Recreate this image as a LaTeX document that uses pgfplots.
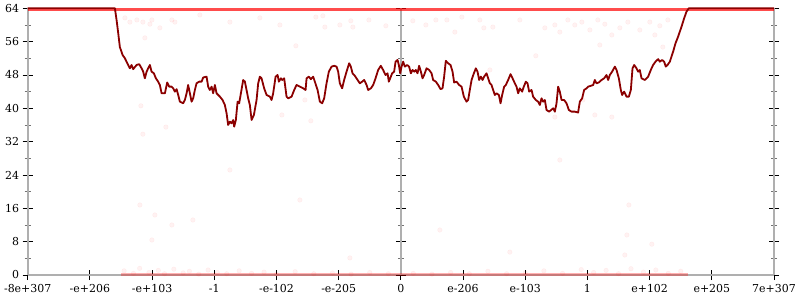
\documentclass[border=0pt]{standalone}
\usepackage{pgfplots}
\pgfplotsset{compat=1.18}
\usepackage{fontspec}
\setmainfont{DejaVu Serif}
\definecolor{lineRed}{RGB}{139,0,0}
\definecolor{axGray}{RGB}{175,175,175}
\begin{document}
\begin{tikzpicture}
\pgfplotsset{
  base/.style={
    width=746.3bp, height=266.7bp, scale only axis,
    xmin=-6, xmax=6, ymin=0, ymax=64, clip=false,
    tick align=center,
    major tick length=10bp, minor tick length=6bp,
    every major tick/.style={black, line width=0.8bp},
    every minor tick/.style={black!55, line width=0.8bp},
    xtick={-6,...,6}, ytick={0,8,...,64}, minor ytick={4,12,...,60},
    tick label style={font=\fontsize{11}{13}\selectfont},
  },
  nolinearrows/.style={
    axis line style={axGray, line width=2bp, -},
    x axis line style={-}, y axis line style={-},
  }
}
\begin{axis}[base, axis x line=bottom, axis y line=box, yticklabel pos=left, nolinearrows,
  xticklabels={-8e+307,-e+206,-e+103,-1,-e-102,-e-205,0,e-206,e-103,1,e+102,e+205,7e+307},
  yticklabels={0,8,16,24,32,40,48,56,64},
  xticklabel style={yshift=-1bp}]
  \path (axis cs:-6,0) coordinate (sw);
  \path (axis cs:6,64) coordinate (ne);
\end{axis}
\begin{axis}[base, axis x line=none, axis y line=middle, nolinearrows, yticklabels={}, xtick=\empty]
\end{axis}
\begin{axis}[base, axis lines=none, ticks=none]
  % top band of points
  \addplot[red, opacity=0.7, line width=2.2bp] coordinates {(-6,63.7) (6,63.7)};
  % bottom band of points
  \addplot[red, opacity=0.3, line width=3bp] coordinates {(-4.5,0.2) (4.62,0.2)};
  % scattered points
  \addplot[only marks, mark=*, mark size=2.3bp, mark options={draw=red, fill=red, draw opacity=0.05, fill opacity=0.05}] coordinates {
    (-4.437,61.7) (-4.357,60.7) (-4.244,61.2) (-4.148,60.7) (-4.035,60.2) (-4.003,61.2)
    (-3.875,59.3) (-3.682,61.2) (-3.633,60.7) (-4.116,56.9) (-3.232,62.4) (-2.749,60.7)
    (-2.267,61.7) (-1.945,60.0) (-1.367,61.9) (-1.254,62.2) (-1.222,59.5) (-0.981,60.0)
    (-0.804,61.0) (-0.772,59.5) (-0.514,61.2) (-0.241,59.8) (0.193,61.0) (0.402,60.0)
    (0.563,61.2) (0.740,61.2) (0.868,58.3) (0.981,61.9) (1.270,61.2) (1.334,59.3)
    (1.479,59.5) (1.913,61.2) (2.315,59.3) (2.476,60.0) (2.556,58.3) (2.685,61.2)
    (2.797,60.0) (2.910,60.7) (3.039,58.8) (3.167,61.2) (3.280,60.2) (3.392,57.6)
    (3.521,59.3) (3.650,60.7) (3.842,58.8) (4.003,60.7) (4.084,57.6) (4.164,59.8)
    (4.293,61.2) (4.212,54.7) (3.199,55.2)
    (-4.180,40.6) (-3.778,35.5) (-4.148,33.8) (-1.913,38.4) (-1.688,55.0) (-1.543,42.0)
    (-1.447,37.0) (1.431,49.2) (2.170,52.6) (2.926,42.0) (3.119,38.4) (3.392,37.9)
    (2.476,37.9) (0.627,10.8) (-1.624,18.0) (-4.196,16.8) (-3.955,14.4) (-3.682,12.0)
    (-3.344,13.2) (-4.003,8.4) (3.666,16.8) (3.634,9.6) (4.035,7.4) (3.601,4.8)
    (-0.820,4.1) (1.752,5.5) (-2.749,25.2) (2.556,27.6)
    (-4.45,1.0) (-4.3,0.4) (-4.2,1.6) (-4.05,0.6) (-3.9,1.1) (-3.8,0.3) (-3.65,1.4)
    (-3.5,0.5) (-3.4,0.9) (-3.25,0.2) (-3.1,1.2) (-2.95,0.6) (-2.8,0.3) (-2.6,1.0)
    (-2.4,0.4) (-2.2,0.7) (-2.0,0.2) (-1.7,0.8) (-1.4,0.3) (-1.1,0.5) (-0.8,0.2)
    (-0.5,0.6) (-0.2,0.3) (0.2,0.4) (0.5,0.2) (0.8,0.6) (1.1,0.3) (1.4,0.9) (1.7,0.3)
    (2.0,0.5) (2.3,1.0) (2.6,0.4) (2.9,1.3) (3.1,0.6) (3.3,1.1) (3.5,0.3) (3.7,1.5)
    (3.9,0.7) (4.1,1.2) (4.3,0.4) (4.5,0.9)
  };
  % main line
  \addplot[lineRed, line width=1.8bp, line join=round] coordinates {
    (-6,64) (-4.598,64) (-4.571,61.2) (-4.545,58.1) (-4.518,54.7) (-4.474,52.8) (-4.437,52.0)
    (-4.384,50.4) (-4.357,49.6) (-4.330,50.4) (-4.304,49.4) (-4.249,50.4) (-4.207,50.6)
    (-4.169,49.6) (-4.143,48.8) (-4.116,47.2) (-4.088,48.8) (-4.063,49.6) (-4.035,50.4)
    (-4.008,48.8) (-3.971,48.4) (-3.939,47.2) (-3.902,46.4) (-3.875,45.6) (-3.847,43.6)
    (-3.794,43.6) (-3.757,46.2) (-3.725,45.2) (-3.686,45.2) (-3.661,44.8) (-3.633,44.0)
    (-3.606,44.6) (-3.580,43.2) (-3.553,41.6) (-3.500,41.2) (-3.473,42.0) (-3.445,43.6)
    (-3.420,45.6) (-3.392,43.6) (-3.365,41.6) (-3.339,42.4) (-3.312,44.4) (-3.285,46.0)
    (-3.243,46.4) (-3.204,46.4) (-3.178,47.4) (-3.124,47.6) (-3.098,45.2) (-3.071,44.4)
    (-3.043,45.2) (-3.018,43.6) (-2.990,45.6) (-2.963,43.6) (-2.910,42.8) (-2.867,42.0)
    (-2.830,40.8) (-2.802,38.8) (-2.777,36.0) (-2.749,36.8) (-2.722,36.4) (-2.696,37.2)
    (-2.680,35.6) (-2.653,37.2) (-2.625,41.6) (-2.600,41.2) (-2.572,43.6) (-2.535,46.8)
    (-2.508,46.4) (-2.481,44.4) (-2.455,42.4) (-2.428,40.8) (-2.400,37.2) (-2.363,38.4)
    (-2.320,42.0) (-2.294,46.0) (-2.267,47.6) (-2.240,47.2) (-2.198,44.8) (-2.159,43.2)
    (-2.106,42.8) (-2.079,42.0) (-2.053,43.6) (-2.014,47.6) (-1.982,48.0) (-1.961,46.4)
    (-1.929,47.2) (-1.908,46.8) (-1.876,47.2) (-1.838,42.8) (-1.812,42.4) (-1.757,42.8)
    (-1.715,44.4) (-1.677,45.6) (-1.624,45.2) (-1.571,44.8) (-1.532,44.4) (-1.516,47.2)
    (-1.479,47.6) (-1.447,47.0) (-1.410,47.6) (-1.383,46.4) (-1.339,44.4) (-1.302,41.6)
    (-1.265,41.2) (-1.233,42.4) (-1.195,46.0) (-1.158,48.8) (-1.114,50.0) (-1.072,50.2)
    (-1.034,50.0) (-1.008,48.8) (-0.981,46.0) (-0.944,44.8) (-0.912,46.8) (-0.873,48.8)
    (-0.831,50.8) (-0.804,50.0) (-0.777,48.4) (-0.740,47.8) (-0.696,46.8) (-0.659,46.0)
    (-0.622,46.4) (-0.590,46.8) (-0.551,45.6) (-0.526,44.4) (-0.482,44.8) (-0.445,45.6)
    (-0.407,47.2) (-0.365,49.2) (-0.322,50.2) (-0.285,49.2) (-0.246,48.0) (-0.214,48.4)
    (-0.193,46.4) (-0.161,47.6) (-0.140,48.4) (-0.108,48.8) (-0.085,51.2) (-0.053,51.6)
    (-0.032,50.4) (-0.011,48.4) (0.011,50.0) (0.037,51.2) (0.064,50.0) (0.101,50.4)
    (0.133,50.0) (0.161,48.4) (0.188,49.2) (0.214,48.8) (0.241,49.2) (0.268,48.4)
    (0.294,50.2) (0.322,48.8) (0.349,47.2) (0.375,48.0) (0.413,49.6) (0.455,49.2)
    (0.494,48.4) (0.519,46.8) (0.563,46.4) (0.600,45.6) (0.638,44.6) (0.670,44.8)
    (0.696,47.6) (0.723,51.4) (0.760,50.8) (0.799,50.4) (0.831,48.8) (0.857,46.2)
    (0.895,46.4) (0.937,45.6) (0.976,45.2) (1.013,42.8) (1.056,41.6) (1.082,42.0)
    (1.109,44.4) (1.137,46.8) (1.174,48.4) (1.206,49.6) (1.233,48.8) (1.259,46.8)
    (1.286,47.6) (1.314,46.8) (1.339,47.6) (1.378,48.4) (1.404,47.2) (1.431,46.0)
    (1.458,45.6) (1.484,44.4) (1.511,43.2) (1.539,43.6) (1.576,43.2) (1.603,41.2)
    (1.629,43.2) (1.661,45.2) (1.688,45.6) (1.725,46.8) (1.764,48.2) (1.796,47.2)
    (1.833,46.0) (1.860,45.2) (1.886,43.6) (1.913,44.8) (1.950,44.0) (1.977,45.2)
    (2.010,46.4) (2.037,46.0) (2.063,44.0) (2.101,44.4) (2.127,42.8) (2.170,42.0)
    (2.207,41.6) (2.235,40.8) (2.262,42.4) (2.288,41.6) (2.315,42.0) (2.342,39.6)
    (2.384,39.2) (2.449,40.0) (2.476,39.2) (2.503,41.2) (2.529,45.2) (2.556,44.0)
    (2.584,42.0) (2.625,42.0) (2.664,41.2) (2.701,39.6) (2.744,39.2) (2.797,39.2)
    (2.850,39.0) (2.878,41.6) (2.915,42.4) (2.947,44.4) (2.986,44.8) (3.011,45.2)
    (3.055,45.4) (3.092,45.6) (3.119,46.8) (3.146,46.0) (3.183,46.2) (3.227,46.8)
    (3.269,47.2) (3.307,48.0) (3.333,46.8) (3.360,48.0) (3.397,48.8) (3.441,50.0)
    (3.468,49.2) (3.505,47.2) (3.537,44.4) (3.558,43.2) (3.590,44.0) (3.629,42.8)
    (3.666,42.8) (3.698,44.4) (3.725,49.6) (3.751,50.4) (3.789,49.6) (3.815,48.8)
    (3.842,49.2) (3.870,47.2) (3.923,46.8) (3.976,47.6) (4.019,49.2) (4.056,50.4)
    (4.095,51.2) (4.137,51.8) (4.164,51.2) (4.201,51.6) (4.233,51.2) (4.260,50.0)
    (4.288,50.4) (4.325,51.2) (4.378,53.6) (4.416,55.6) (4.458,57.2) (4.513,59.6)
    (4.555,61.6) (4.593,63.2) (4.630,64) (6,64)
  };
\end{axis}
\pgfresetboundingbox
\path ([shift={(-27.7bp,-25bp)}]sw) rectangle ([shift={(26bp,8.3bp)}]ne);
\end{tikzpicture}
\end{document}
